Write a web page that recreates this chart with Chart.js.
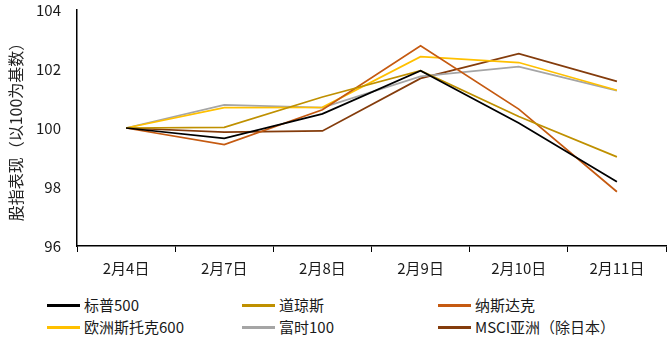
<!DOCTYPE html>
<html>
<head>
<meta charset="utf-8">
<script src="https://cdn.jsdelivr.net/npm/chart.js@4.4.1/dist/chart.umd.min.js"></script>
<style>
  body { margin: 0; background: #fff; font-family: "Noto Sans CJK SC", sans-serif; }
  #wrap { position: relative; width: 669px; height: 344px; }
  #box { position: absolute; left: 0; top: 0; width: 669px; height: 290px; }
  .item { position: absolute; font-size: 15px; color: #1a1a1a; line-height: 16px; white-space: nowrap; }
  .item span.sw { display: inline-block; width: 33px; height: 3px; vertical-align: middle; margin-right: 4px; position: relative; top: -1px; }
</style>
</head>
<body>
<div id="wrap">
  <div id="box"><canvas id="myChart"></canvas></div>
  <div id="legend"></div>
</div>
<script>
// data
var dates = ["2月4日", "2月7日", "2月8日", "2月9日", "2月10日", "2月11日"];
var names = ["标普500", "道琼斯", "纳斯达克", "欧洲斯托克600", "富时100", "MSCI亚洲（除日本）"];
var sp500   = [100, 99.65, 100.48, 101.94, 100.17, 98.18];
var dow     = [100, 100.02, 101.05, 101.94, 100.39, 99.02];
var nasdaq  = [100, 99.44, 100.62, 102.79, 100.64, 97.84];
var stoxx   = [100, 100.69, 100.70, 102.42, 102.22, 101.28];
var ftse    = [100, 100.78, 100.69, 101.75, 102.08, 101.27];
var msci    = [100, 99.86, 99.90, 101.68, 102.52, 101.58];
var yTicks  = [96, 98, 100, 102, 104];

var colors = ["#000000", "#BF9000", "#C55A11", "#FFC000", "#A5A5A5", "#843C0C"];
var series = [sp500, dow, nasdaq, stoxx, ftse, msci];

var ctx = document.getElementById('myChart').getContext('2d');
var myChart = new Chart(ctx, {
  type: "line",
  data: {
    labels: dates,
    datasets: series.map(function(s, i){
      return { label: names[i], data: s, borderColor: colors[i], backgroundColor: colors[i],
               borderWidth: 1.75, pointRadius: 0, tension: 0, fill: false };
    })
  },
  options: {
    responsive: true,
    maintainAspectRatio: false,
    animation: false,
    layout: { padding: { top: 10, right: 3, left: 0, bottom: 0 } },
    plugins: { legend: { display: false }, tooltip: { enabled: false } },
    scales: {
      x: {
        offset: true,
        grid: { offset: true, drawOnChartArea: false, drawTicks: true, tickLength: 6, color: "#000" },
        border: { display: true, color: "#000", width: 1.5 },
        ticks: { color: "#1a1a1a", font: { family: "Noto Sans CJK SC", size: 15 }, padding: 7, maxRotation: 0 },
        afterFit: function(s){ s.height = 44; }
      },
      y: {
        min: 96, max: 104,
        afterBuildTicks: function(s){ s.ticks = yTicks.map(function(v){ return { value: v }; }); },
        grid: { display: true, drawOnChartArea: false, drawTicks: false },
        border: { display: true, color: "#000", width: 1.5 },
        ticks: { color: "#1a1a1a", font: { family: "Noto Sans CJK SC", size: 15 }, padding: 16 },
        title: { display: true, text: "股指表现（以100为基数）", color: "#222",
                 font: { family: "Noto Sans CJK SC", size: 16 }, padding: { top: 6, bottom: 0 } },
        afterFit: function(s){ s.width = 77; s.paddingTop = 0; s.paddingBottom = 0; }
      }
    }
  }
});

// legend, 3 columns x 2 rows
var lg = document.getElementById('legend');
var colX = [47, 242, 438], rowY = [297, 319];
names.forEach(function(n, i){
  var d = document.createElement('div');
  d.className = 'item';
  d.style.left = colX[i % 3] + 'px';
  d.style.top = rowY[Math.floor(i / 3)] + 'px';
  d.innerHTML = '<span class="sw" style="background:' + colors[i] + '"></span>';
  d.appendChild(document.createTextNode(n));
  lg.appendChild(d);
});
</script>
</body>
</html>
